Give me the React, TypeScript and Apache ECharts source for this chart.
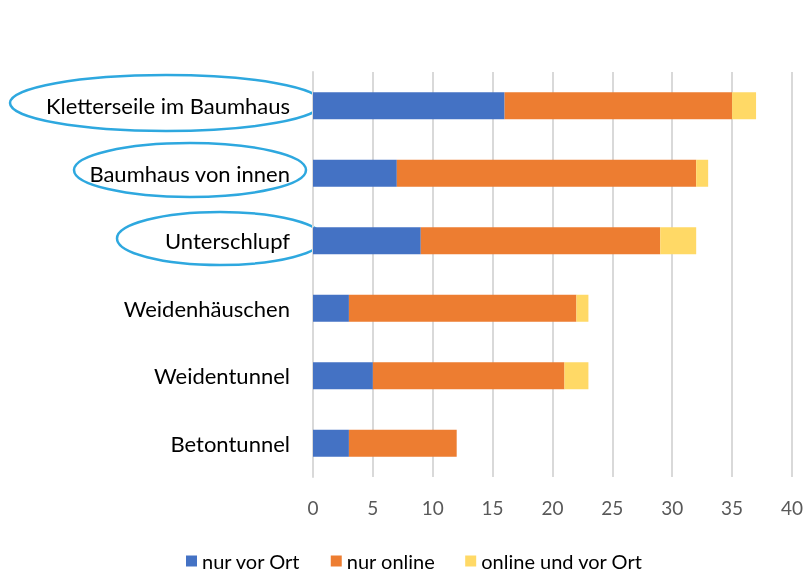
import React, { useEffect, useRef } from "react";
import * as echarts from "echarts";

const categories = [
  "Betontunnel",
  "Weidentunnel",
  "Weidenhäuschen",
  "Unterschlupf",
  "Baumhaus von innen",
  "Kletterseile im Baumhaus",
];
const nurVorOrt = [3, 5, 3, 9, 7, 16];
const nurOnline = [9, 16, 19, 20, 25, 19];
const onlineUndVorOrt = [0, 2, 1, 3, 1, 2];
const seriesNames = ["nur vor Ort", "nur online", "online und vor Ort"];
const colors = ["#4472C4", "#ED7D31", "#FFD966"];

const FONT = "Lato";

export default function App() {
  const ref = useRef<HTMLDivElement>(null);
  useEffect(() => {
    if (!ref.current) return;
    const chart = echarts.init(ref.current, null, { renderer: "svg" });
    const ell = (cx: number, cy: number, rx: number, ry: number) => ({
      type: "ellipse",
      shape: { cx, cy, rx, ry },
      style: { fill: "none", stroke: "#2EA8DF", lineWidth: 2.5 },
      z: 0,
      silent: true,
    });
    chart.setOption({
      animation: false,
      color: colors,
      textStyle: { fontFamily: FONT },
      grid: { left: 313, right: 13, top: 72, bottom: 97, containLabel: false },
      legend: {
        top: 546,
        left: 181,
        itemWidth: 11,
        itemHeight: 11,
        itemGap: 30,
        icon: "rect",
        textStyle: { fontSize: 20, color: "#000", fontFamily: FONT },
        data: seriesNames,
      },
      xAxis: {
        type: "value",
        min: 0,
        max: 40,
        interval: 5,
        axisLine: { show: false },
        axisTick: { show: false },
        splitLine: { lineStyle: { color: "#D9D9D9", width: 2 } },
        axisLabel: { color: "#595959", fontSize: 19, margin: 21, fontFamily: FONT },
      },
      yAxis: {
        type: "category",
        data: categories,
        axisLine: { show: true, lineStyle: { color: "#D9D9D9", width: 2 } },
        axisTick: { show: false },
        axisLabel: { color: "#000", fontSize: 22, margin: 23, fontFamily: FONT },
      },
      graphic: [
        ell(166, 103, 156, 28),
        ell(190, 170, 116, 27),
        ell(220, 238.5, 103, 26.5),
      ],
      series: [
        { name: seriesNames[0], type: "bar", stack: "s", data: nurVorOrt, barWidth: "40%", z: 3 },
        { name: seriesNames[1], type: "bar", stack: "s", data: nurOnline, barWidth: "40%", z: 3 },
        { name: seriesNames[2], type: "bar", stack: "s", data: onlineUndVorOrt, barWidth: "40%", z: 3 },
      ],
    });
    return () => chart.dispose();
  }, []);
  return (
    <div
      ref={ref}
      style={{ position: "fixed", left: 0, top: 0, width: 806, height: 574 }}
    />
  );
}
